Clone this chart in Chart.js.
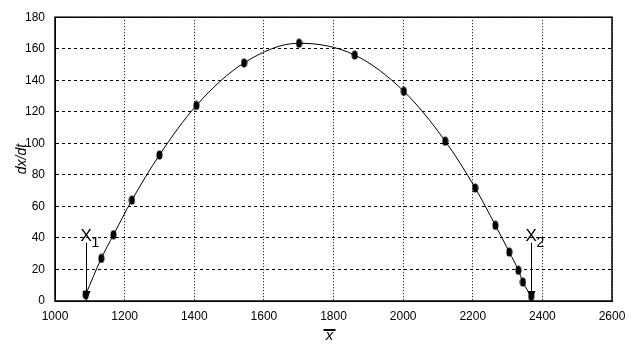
<!DOCTYPE html>
<html>
<head>
<meta charset="utf-8">
<script src="https://cdn.jsdelivr.net/npm/chart.js@4.4.1/dist/chart.umd.min.js"></script>
<style>
  html, body { margin: 0; padding: 0; background: #fff; }
  #wrap { width: 637px; height: 355px; position: relative; }
</style>
</head>
<body>
<div id="wrap"><canvas id="c" width="637" height="355"></canvas></div>
<script>
// ---- data ----
const xValues = [1088, 1133, 1168, 1221, 1300, 1406, 1543, 1701, 1861, 2002, 2121, 2207, 2265, 2305, 2331, 2344, 2368];
const yValues = [4, 27, 42, 64, 92.6, 124, 151, 163.5, 156, 133, 101.4, 71.7, 48, 31, 19.5, 12, 3];
const xTicks = [1000, 1200, 1400, 1600, 1800, 2000, 2200, 2400, 2600];
const yTicks = [0, 20, 40, 60, 80, 100, 120, 140, 160, 180];
const roots = [1088, 2368];
const rootLabels = ['1', '2'];
const arrowTop = 37;
const yTitle = 'dx/dt';
const xTitle = 'x';

const points = xValues.map((x, i) => ({ x: x, y: yValues[i] }));

// ellipse marker
const marker = document.createElement('canvas');
marker.width = 7; marker.height = 10;
(function () {
  const m = marker.getContext('2d');
  m.fillStyle = '#000';
  m.beginPath();
  m.ellipse(3.5, 5, 3, 4.6, 0, 0, Math.PI * 2);
  m.fill();
})();

const FONT = "'Liberation Sans', Arial, sans-serif";

const decor = {
  id: 'decor',
  afterDatasetsDraw(chart) {
    const ctx = chart.ctx;
    const a = chart.chartArea;
    const xs = chart.scales.x, ys = chart.scales.y;
    ctx.save();
    // frame
    ctx.strokeStyle = '#000';
    ctx.lineWidth = 1.5;
    ctx.setLineDash([]);
    ctx.strokeRect(a.left, a.top, a.right - a.left, a.bottom - a.top);
    // arrows + labels
    roots.forEach((r, i) => {
      const px = Math.round(xs.getPixelForValue(r)) + 0.5;
      const top = ys.getPixelForValue(arrowTop);
      const bot = ys.getPixelForValue(0);
      ctx.lineWidth = 1;
      ctx.beginPath();
      ctx.moveTo(px, top);
      ctx.lineTo(px, bot - 8);
      ctx.stroke();
      ctx.fillStyle = '#000';
      ctx.beginPath();
      ctx.moveTo(px - 4, bot - 10);
      ctx.lineTo(px + 4, bot - 10);
      ctx.lineTo(px, bot);
      ctx.closePath();
      ctx.fill();
      ctx.font = '17px ' + FONT;
      ctx.textAlign = 'left';
      ctx.textBaseline = 'alphabetic';
      ctx.fillText('X', px - 6, top - 2);
      ctx.font = '14px ' + FONT;
      ctx.fillText(rootLabels[i], px + 5, top + 4);
    });
    // x title with overline
    const cx = (a.left + a.right) / 2 - 4;
    ctx.font = 'italic 15px ' + FONT;
    ctx.textAlign = 'center';
    ctx.fillText(xTitle, cx, a.bottom + 39);
    ctx.fillRect(cx - 6, a.bottom + 28, 12, 2);
    ctx.restore();
  }
};

new Chart(document.getElementById('c'), {
  type: 'scatter',
  data: {
    datasets: [{
      data: points,
      showLine: true,
      borderColor: '#000',
      borderWidth: 1,
      cubicInterpolationMode: 'monotone',
      pointStyle: marker,
      pointRadius: 5,
      backgroundColor: '#000'
    }]
  },
  options: {
    responsive: false,
    animation: false,
    layout: { padding: { left: 0, right: 25, top: 17, bottom: 0 } },
    plugins: { legend: { display: false }, tooltip: { enabled: false } },
    scales: {
      x: {
        type: 'linear',
        min: xTicks[0], max: xTicks[xTicks.length - 1],
        afterBuildTicks(s) { s.ticks = xTicks.map(v => ({ value: v })); },
        afterFit(s) { s.height = 54; },
        ticks: { color: '#000', font: { family: FONT, size: 12 }, padding: 8, maxRotation: 0,
                 callback: v => String(v) },
        grid: { color: '#000', lineWidth: 1, drawTicks: false },
        border: { display: true, color: '#000', dash: [1, 2] },
        title: { display: false }
      },
      y: {
        type: 'linear',
        min: yTicks[0], max: yTicks[yTicks.length - 1],
        afterBuildTicks(s) { s.ticks = yTicks.map(v => ({ value: v })); },
        afterFit(s) { s.width = 55; },
        ticks: { color: '#000', font: { family: FONT, size: 12 }, padding: 10,
                 callback: v => String(v) },
        grid: { color: '#000', lineWidth: 1, drawTicks: false },
        border: { display: true, color: '#000', dash: [3, 3] },
        title: { display: true, text: yTitle, color: '#000',
                 font: { family: FONT, size: 14, style: 'italic' }, padding: { top: 14, bottom: 0 } }
      }
    }
  },
  plugins: [decor]
});
</script>
</body>
</html>
